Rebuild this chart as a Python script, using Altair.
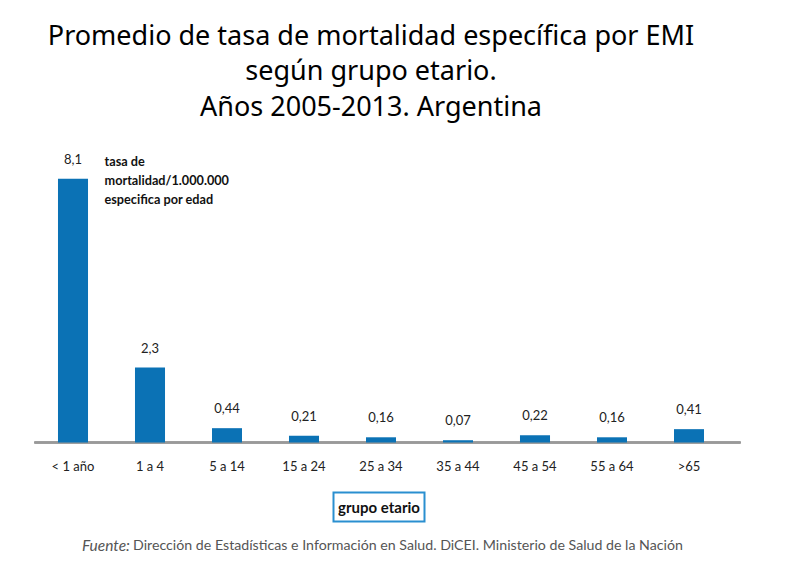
import altair as alt
import pandas as pd

categories = ["< 1 año", "1 a 4", "5 a 14", "15 a 24", "25 a 34", "35 a 44", "45 a 54", "55 a 64", ">65"]
values = [8.1, 2.3, 0.44, 0.21, 0.16, 0.07, 0.22, 0.16, 0.41]
value_labels = ["8,1", "2,3", "0,44", "0,21", "0,16", "0,07", "0,22", "0,16", "0,41"]

title_lines = ["Promedio de tasa de mortalidad específica por EMI", "según grupo etario.", "Años 2005-2013. Argentina"]
note_text = "tasa de|mortalidad/1.000.000|especifica por edad"
axis_title = "grupo etario"
source_italic = "Fuente:"
source_text = "Dirección de Estadísticas e Información en Salud. DiCEI. Ministerio de Salud de la Nación"

df = pd.DataFrame({"grupo": categories, "tasa": values, "label": value_labels})

FONT = "Lato"
BLUE = "#0b72b5"

x_enc = alt.X("grupo:N", sort=categories,
              scale=alt.Scale(paddingInner=0.61, paddingOuter=0.305),
              axis=alt.Axis(title=None, labelAngle=0, ticks=False, domain=False,
                            labelFont=FONT, labelFontSize=13, labelColor="#222",
                            labelPadding=18))
y_enc = alt.Y("tasa:Q", scale=alt.Scale(domain=[0, 9], nice=False), axis=None)

base = alt.Chart(df)

bars = base.mark_bar(color=BLUE).encode(x=x_enc, y=y_enc)
labels = base.mark_text(dy=-12, baseline="bottom", font=FONT, fontSize=13, color="#222").encode(
    x=alt.X("grupo:N", sort=categories), y=y_enc, text="label:N")

baseline_rule = base.mark_rule(color="#999", strokeWidth=1.5).encode(
    x=alt.value(0), x2=alt.value(706), y=alt.value(293))

note = alt.Chart(pd.DataFrame({"t": [note_text]})).mark_text(
    align="left", baseline="top", font=FONT, fontSize=12.7, fontWeight="bold",
    lineHeight=19, lineBreak="|", color="#111").encode(x=alt.value(70), y=alt.value(6), text="t:N")

box = alt.Chart(pd.DataFrame({"a": [0]})).mark_rect(
    fill="white", stroke="#2a8fd0", strokeWidth=2).encode(
    x=alt.value(299), x2=alt.value(390), y=alt.value(343), y2=alt.value(372))
box_text = alt.Chart(pd.DataFrame({"t": [axis_title]})).mark_text(
    font=FONT, fontSize=15, fontWeight="bold", color="#111", baseline="middle").encode(
    x=alt.value(344.5), y=alt.value(358), text="t:N")

src1 = alt.Chart(pd.DataFrame({"t": [source_italic]})).mark_text(
    align="left", baseline="middle", font=FONT, fontSize=15.5, fontStyle="italic",
    color="#555").encode(x=alt.value(47.5), y=alt.value(396), text="t:N")
src2 = alt.Chart(pd.DataFrame({"t": [source_text]})).mark_text(
    align="left", baseline="middle", font=FONT, fontSize=14.2, color="#555").encode(
    x=alt.value(98.5), y=alt.value(396), text="t:N")

chart = alt.layer(baseline_rule, bars, labels, note, box, box_text, src1, src2).properties(
    width=693, height=293,
    background="white",
    title=alt.TitleParams(text=title_lines, font="Noto Sans", fontSize=27, fontWeight="normal",
                          color="#000", lineHeight=35.5, anchor="middle", dx=-10, offset=28),
    autosize=alt.AutoSizeParams(type="none"),
    padding={"left": 34.5, "top": 149.5, "right": 72.5, "bottom": 140.5},
).configure_view(strokeWidth=0)

chart.save("out.html", embed_options={"renderer": "svg", "actions": False})
